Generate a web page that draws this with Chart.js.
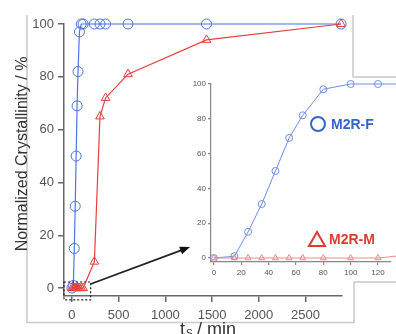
<!DOCTYPE html>
<html>
<head>
<meta charset="utf-8">
<script src="https://cdn.jsdelivr.net/npm/chart.js@4.4.1/dist/chart.umd.min.js"></script>
<style>
  body { margin: 0; background: #fff; }
  #wrap { position: relative; width: 396px; height: 334px; overflow: hidden; }
  #wrap canvas { position: absolute; left: 0; top: 0; }
</style>
</head>
<body>
<div id="wrap">
  <canvas id="mainchart" width="396" height="334"></canvas>
  <canvas id="insetchart" width="396" height="334"></canvas>
</div>
<script>
// sampling times (min) and crystallinity (%)
const times = [0, 15, 25, 35, 45, 55, 65, 80, 100, 120, 240, 300, 360, 600, 1440, 2880];
const m2rF  = [0, 1, 15, 31, 50, 69, 82, 97, 100, 100, 100, 100, 100, 100, 100, 100];
const m2rM  = [0, 0, 0, 0, 0, 0, 0, 0, 0, 0, 10, 65, 72, 81, 94, 100];

const yTicks = [0, 20, 40, 60, 80, 100];
const mainXTicks = [0, 500, 1000, 1500, 2000, 2500];
const insetXTicks = [0, 20, 40, 60, 80, 100, 120];

const blue = '#4d74e4';
const red = '#e8403c';
const font = "'Liberation Sans', Arial, sans-serif";

function points(ys) {
    return times.map((t, i) => ({ x: t, y: ys[i] }));
}

function setTicks(list) {
    return function (scale) {
        scale.ticks = list.map(v => ({ value: v }));
    };
}

function axis(color, w, tickLen, size, pad) {
    return {
        grid: { drawOnChartArea: false, drawTicks: true, tickLength: tickLen, color: color, lineWidth: w },
        border: { display: true, color: color, width: w },
        ticks: { color: '#555', padding: pad, font: { family: font, size: size }, callback: v => String(v) }
    };
}

// frame, titles, zoom box and arrow on the main chart
const mainDeco = {
    id: 'mainDeco',
    beforeDraw(chart) {
        const c = chart.ctx;
        c.save();
        c.fillStyle = '#fff';
        c.fillRect(0, 0, chart.width, chart.height);
        c.strokeStyle = '#c9c9c9';
        c.lineWidth = 1.5;
        c.beginPath();
        c.moveTo(27, 15); c.lineTo(27, 322.5); c.lineTo(354, 322.5); c.lineTo(354, 282); c.lineTo(396, 282);
        c.moveTo(353, 15); c.lineTo(353, 77); c.lineTo(396, 77);
        c.stroke();
        c.restore();
    },
    afterDraw(chart) {
        const c = chart.ctx;
        const x = chart.scales.x, y = chart.scales.y;
        c.save();
        // y title
        c.fillStyle = '#333';
        c.font = '16px ' + font;
        c.translate(27, 154);
        c.rotate(-Math.PI / 2);
        c.textAlign = 'center';
        c.textBaseline = 'alphabetic';
        c.fillText('Normalized Crystallinity / %', 0, 0);
        c.restore();

        // x title with subscript
        c.save();
        c.fillStyle = '#333';
        c.textBaseline = 'alphabetic';
        c.font = '18px ' + font;
        c.fillText('t', 180, 335);
        c.font = '10px ' + font;
        c.fillText('S', 186, 337);
        c.font = '18px ' + font;
        c.fillText('/ min', 197, 335);
        c.restore();

        // dotted zoom box around the first two hours
        const bx0 = x.getPixelForValue(-85), bx1 = x.getPixelForValue(200);
        const by0 = y.getPixelForValue(2.3), by1 = y.getPixelForValue(-4.5);
        c.save();
        c.strokeStyle = '#222';
        c.lineWidth = 1.2;
        c.setLineDash([2, 2]);
        c.strokeRect(bx0, by0, bx1 - bx0, by1 - by0);
        c.setLineDash([]);
        // arrow towards the inset
        const ax0 = bx1, ay0 = by0 + 2, ax1 = 190, ay1 = 247;
        const ang = Math.atan2(ay1 - ay0, ax1 - ax0);
        c.lineWidth = 1.8;
        c.beginPath();
        c.moveTo(ax0, ay0);
        c.lineTo(ax1 - 6 * Math.cos(ang), ay1 - 6 * Math.sin(ang));
        c.stroke();
        c.fillStyle = '#111';
        c.beginPath();
        c.moveTo(ax1, ay1);
        c.lineTo(ax1 - 10 * Math.cos(ang) + 4 * Math.sin(ang), ay1 - 10 * Math.sin(ang) - 4 * Math.cos(ang));
        c.lineTo(ax1 - 10 * Math.cos(ang) - 4 * Math.sin(ang), ay1 - 10 * Math.sin(ang) + 4 * Math.cos(ang));
        c.closePath();
        c.fill();
        c.restore();
    }
};

// legend labels inside the inset
const insetLegend = {
    id: 'insetLegend',
    afterDraw(chart) {
        const c = chart.ctx;
        c.save();
        c.lineWidth = 2;
        c.strokeStyle = '#3565c8';
        c.beginPath();
        c.arc(318, 124, 7, 0, Math.PI * 2);
        c.stroke();
        c.fillStyle = '#3565c8';
        c.font = 'bold 14px ' + font;
        c.textBaseline = 'middle';
        c.fillText('M2R-F', 331, 125);

        c.strokeStyle = '#dc3b30';
        c.beginPath();
        c.moveTo(317, 232); c.lineTo(325, 246); c.lineTo(309, 246);
        c.closePath();
        c.stroke();
        c.fillStyle = '#dc3b30';
        c.fillText('M2R-M', 329, 240);
        c.restore();
    }
};

function datasets(r, w, redColor, blueColor) {
    return [
        {
            label: 'M2R-M', data: points(m2rM), order: 0,
            borderColor: redColor, borderWidth: w, pointStyle: 'triangle',
            pointRadius: r, pointBorderColor: redColor, pointBorderWidth: 1,
            pointBackgroundColor: 'rgba(0,0,0,0)', showLine: true, clip: false
        },
        {
            label: 'M2R-F', data: points(m2rF), order: 1,
            borderColor: blueColor, borderWidth: w, pointStyle: 'circle',
            pointRadius: r, pointBorderColor: blueColor, pointBorderWidth: 1,
            pointBackgroundColor: 'rgba(0,0,0,0)', showLine: true, clip: false
        }
    ];
}

function showMainChart() {
    const mx = axis('#666', 1.5, 6, 13, 6);
    mx.type = 'linear'; mx.min = -85; mx.max = 2890;
    mx.afterBuildTicks = setTicks(mainXTicks);
    mx.afterFit = s => { s.height = 38; };
    const my = axis('#666', 1.5, 6, 13, 4);
    my.min = -3; my.max = 100;
    my.afterBuildTicks = setTicks(yTicks);
    my.afterFit = s => { s.width = 64; };

    new Chart(document.getElementById('mainchart'), {
        type: 'scatter',
        data: { datasets: datasets(5, 1.2, red, blue) },
        options: {
            responsive: false,
            animation: false,
            layout: { padding: { left: 0, top: 24, right: 54, bottom: 0 } },
            plugins: { legend: { display: false }, tooltip: { enabled: false } },
            scales: { x: mx, y: my }
        },
        plugins: [mainDeco]
    });
}

function showInsetChart() {
    const ix = axis('#888', 1.2, 3, 8, 3);
    ix.type = 'linear'; ix.min = -2.1; ix.max = 129.5;
    ix.afterBuildTicks = setTicks(insetXTicks);
    ix.afterFit = s => { s.height = 72; };
    const iy = axis('#888', 1.2, 3, 8, 2);
    iy.min = -2.3; iy.max = 100;
    iy.afterBuildTicks = setTicks(yTicks);
    iy.afterFit = s => { s.width = 211; };

    new Chart(document.getElementById('insetchart'), {
        type: 'scatter',
        data: { datasets: datasets(3.5, 1, '#f08a8a', '#6f8ee8') },
        options: {
            responsive: false,
            animation: false,
            layout: { padding: { left: 0, top: 84, right: 0, bottom: 0 } },
            plugins: { legend: { display: false }, tooltip: { enabled: false } },
            scales: { x: ix, y: iy }
        },
        plugins: [insetLegend]
    });
}

window.onload = () => {
    showMainChart();
    showInsetChart();
};
</script>
</body>
</html>
